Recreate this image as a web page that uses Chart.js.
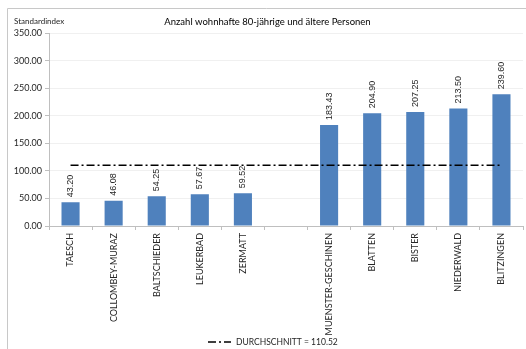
<!DOCTYPE html>
<html>
<head>
<meta charset="utf-8">
<script src="https://cdn.jsdelivr.net/npm/chart.js@4/dist/chart.umd.min.js"></script>
<style>
  html, body { margin: 0; padding: 0; background: #fff; }
  #wrap { width: 526px; height: 349px; }
</style>
</head>
<body>
<div id="wrap"><canvas id="chart" width="526" height="349"></canvas></div>
<script>
// gemeinden, leere kategorie = lücke zwischen den gruppen
const categories = [`TAESCH`, `COLLOMBEY-MURAZ`, `BALTSCHIEDER`, `LEUKERBAD`, `ZERMATT`, ``,
  `MUENSTER-GESCHINEN`, `BLATTEN`, `BISTER`, `NIEDERWALD`, `BLITZINGEN`];
const indexValues = [43.20, 46.08, 54.25, 57.67, 59.52, null, 183.43, 204.90, 207.25, 213.50, 239.60];
const averageValues = [110.52, 110.52, 110.52, 110.52, 110.52, 110.52, 110.52, 110.52, 110.52, 110.52, 110.52];
const yTicks = [0, 50, 100, 150, 200, 250, 300, 350];

const TITLE = `Anzahl wohnhafte 80-jährige und ältere Personen`;
const Y_LABEL = `Standardindex`;
const AVG_LABEL = `DURCHSCHNITT = 110.52`;

const BAR_COLOR = `#4f81bd`;
const TEXT_COLOR = `#262626`;
const AXIS_COLOR = `#bfbfbf`;

// rahmen, "Standardindex" oben links, legende unten
const framePlugin = {
  id: `frame`,
  beforeDraw(chart) {
    const ctx = chart.ctx;
    ctx.save();
    ctx.strokeStyle = `#c8c8c8`;
    ctx.lineWidth = 1;
    ctx.beginPath();
    ctx.moveTo(7.5, 349);
    ctx.lineTo(7.5, 8.5);
    ctx.lineTo(526, 8.5);
    ctx.stroke();
    ctx.restore();
  },
  afterDraw(chart) {
    const ctx = chart.ctx;
    ctx.save();
    ctx.font = `8px Lato`;
    ctx.fillStyle = TEXT_COLOR;
    ctx.textBaseline = `middle`;
    ctx.textAlign = `left`;
    ctx.fillText(Y_LABEL, 14, 21);

    // legende: nur die durchschnittslinie
    const avg = chart.data.datasets[1];
    const ly = 342;
    ctx.strokeStyle = avg.borderColor;
    ctx.lineWidth = avg.borderWidth;
    ctx.setLineDash(avg.borderDash);
    ctx.beginPath();
    ctx.moveTo(208, ly);
    ctx.lineTo(231, ly);
    ctx.stroke();
    ctx.setLineDash([]);
    ctx.font = `8.5px Lato`;
    ctx.fillText(avg.label, 236, ly);
    ctx.restore();
  }
};

// werte senkrecht über den balken
const barLabelPlugin = {
  id: `barLabels`,
  afterDatasetsDraw(chart) {
    const ctx = chart.ctx;
    const meta = chart.getDatasetMeta(0);
    ctx.save();
    ctx.font = `9px "Liberation Sans"`;
    ctx.fillStyle = TEXT_COLOR;
    ctx.textAlign = `left`;
    ctx.textBaseline = `middle`;
    meta.data.forEach((bar, i) => {
      const value = indexValues[i];
      if (value === null) {
        return;
      }
      ctx.save();
      ctx.translate(bar.x, bar.y - 5);
      ctx.rotate(-Math.PI / 2);
      ctx.fillText(value.toFixed(2), 0, 0);
      ctx.restore();
    });
    ctx.restore();
  }
};

new Chart(document.getElementById(`chart`), {
  data: {
    labels: categories,
    datasets: [{
      type: `bar`,
      label: Y_LABEL,
      data: indexValues,
      backgroundColor: BAR_COLOR,
      borderWidth: 0,
      categoryPercentage: 1,
      barPercentage: 0.42,
      order: 2,
    }, {
      type: `line`,
      label: AVG_LABEL,
      data: averageValues,
      borderColor: `#000`,
      borderWidth: 1.5,
      borderDash: [8, 3, 2, 3],
      pointRadius: 0,
      fill: false,
      order: 1,
    }]
  },
  plugins: [framePlugin, barLabelPlugin],
  options: {
    responsive: false,
    animation: false,
    layout: {
      padding: {left: 12, right: 3, top: 8, bottom: 7},
    },
    scales: {
      x: {
        afterFit(scale) {
          scale.height = 116;
        },
        grid: {
          offset: true,
          drawOnChartArea: false,
          drawTicks: true,
          tickLength: 4,
          color: AXIS_COLOR,
        },
        border: {color: AXIS_COLOR},
        ticks: {
          autoSkip: false,
          maxRotation: 90,
          minRotation: 90,
          padding: 3,
          color: TEXT_COLOR,
          font: {family: `Lato`, size: 9},
        },
      },
      y: {
        min: 0,
        max: 350,
        afterFit(scale) {
          scale.width = 37;
        },
        afterBuildTicks(scale) {
          scale.ticks = yTicks.map((v) => ({value: v}));
        },
        grid: {
          color: `#f0f0f0`,
          tickColor: AXIS_COLOR,
          tickLength: 4,
        },
        border: {color: AXIS_COLOR},
        ticks: {
          padding: 3,
          color: TEXT_COLOR,
          font: {family: `Lato`, size: 9},
          callback: (v) => Number(v).toFixed(2),
        },
      },
    },
    plugins: {
      title: {
        display: true,
        text: TITLE,
        color: `#000`,
        font: {family: `Lato`, size: 9.5, weight: `normal`},
        padding: {top: 8, bottom: 6},
      },
      legend: {display: false},
      tooltip: {enabled: false},
    },
  },
});
</script>
</body>
</html>
